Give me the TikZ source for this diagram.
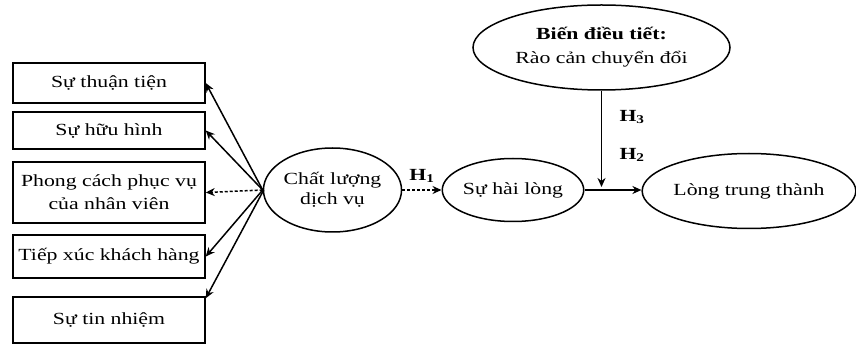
\documentclass[tikz,border=0pt]{standalone}
\usepackage{fontspec}
\setmainfont[FakeStretch=1.28]{Liberation Serif}
\usetikzlibrary{arrows.meta,calc,shapes.geometric}
\tikzset{
  every node/.style={font=\fontsize{17}{20}\selectfont},
  factor/.style={draw, line width=1.5pt, rectangle, minimum width=192pt, inner sep=0pt, align=center},
  construct/.style={draw, line width=1.5pt, ellipse, inner sep=0pt, align=center},
  link/.style={line width=1.5pt, -{Stealth[length=9pt,width=8pt]}},
  hyp/.style={font=\fontsize{17}{20}\selectfont\bfseries}
}
\begin{document}
\begin{tikzpicture}[x=1pt,y=-1pt]
\useasboundingbox (0,0) rectangle (856,347);

% dimensions of service quality
\node[factor, minimum height=40pt] (b1) at (109,83) {Sự thuận tiện};
\node[factor, minimum height=37pt] (b2) at (109,130.5) {Sự hữu hình};
\node[factor, minimum height=61pt] (b3) at (109,192.5) {Phong cách phục vụ\\[3pt]của nhân viên};
\node[factor, minimum height=43pt] (b4) at (109,256.5) {Tiếp xúc khách hàng};
\node[factor, minimum height=46pt] (b5) at (109,320) {Sự tin nhiệm};

% constructs
\node[construct, minimum width=129pt, minimum height=84pt] (q) at (332.5,190) {Chất lượng\\dịch vụ};
\node[construct, minimum width=140pt, minimum height=63pt] (s) at (513,190) {Sự hài lòng};
\node[construct, minimum width=257pt, minimum height=85pt] (m) at (601.5,47.5) {\bfseries Biến điều tiết:\\[4pt]Rào cản chuyển đổi};
\node[construct, minimum width=198pt, minimum height=75pt] (l) at (749,191) {Lòng trung thành};

% fan of arrows to the dimensions
\draw[link] (q.west) -- (b1.east);
\draw[link] (q.west) -- (b2.east);
\draw[link, densely dashed] (q.west) -- (b3.east);
\draw[link] (q.west) -- (b4.east);
\draw[link] ([xshift=1pt]q.west) -- ([yshift=-2pt]b5.north east);

% hypotheses
\draw[link, densely dashed] (q.east) -- node[hyp, above=3pt, pos=0.5] {H\textsubscript{1}} (s.west);
\coordinate (j) at (m.south |- s.east);
\draw[link] (s.east) -- (s.east -| l.west);
\draw[link] (m.south) -- ([yshift=3pt]j);
\node[hyp, anchor=west] (h3) at (616,117) {H\textsubscript{3}};
\node[hyp, anchor=west] (h2) at (616,155) {H\textsubscript{2}};
\end{tikzpicture}
\end{document}
